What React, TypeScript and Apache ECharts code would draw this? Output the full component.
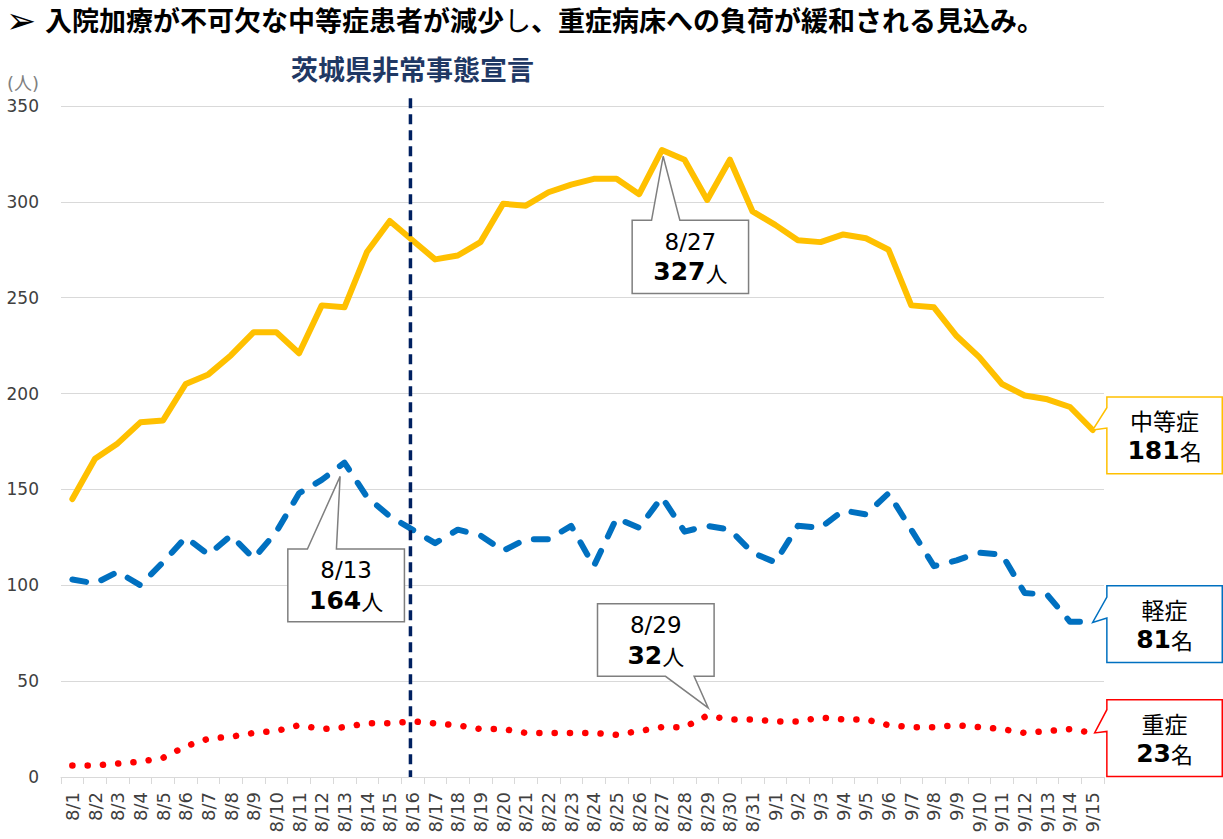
import React, { useEffect, useRef } from 'react';
import * as echarts from 'echarts';

const dates = [
  '8/1', '8/2', '8/3', '8/4', '8/5', '8/6', '8/7', '8/8', '8/9', '8/10',
  '8/11', '8/12', '8/13', '8/14', '8/15', '8/16', '8/17', '8/18', '8/19', '8/20',
  '8/21', '8/22', '8/23', '8/24', '8/25', '8/26', '8/27', '8/28', '8/29', '8/30',
  '8/31', '9/1', '9/2', '9/3', '9/4', '9/5', '9/6', '9/7', '9/8', '9/9',
  '9/10', '9/11', '9/12', '9/13', '9/14', '9/15',
];

// 中等症
const moderate = [
  145, 166, 174, 185, 186, 205, 210, 220, 232, 232,
  221, 246, 245, 274, 290, 280, 270, 272, 279, 299,
  298, 305, 309, 312, 312, 304, 327, 322, 301, 322,
  295, 288, 280, 279, 283, 281, 275, 246, 245, 230,
  219, 205, 199, 197, 193, 181,
];

// 軽症
const mild = [
  103, 101, 107, 100, 112, 125, 116, 126, 114, 128,
  148, 155, 164, 146, 136, 129, 122, 129, 126, 118,
  124, 124, 131, 110, 135, 130, 146, 128, 131, 129,
  117, 112, 131, 130, 139, 137, 148, 129, 110, 113,
  117, 116, 96, 95, 81, 81,
];

// 重症
const severe = [
  6, 6, 7, 8, 10, 16, 20, 21, 23, 24,
  27, 25, 26, 28, 28, 29, 28, 27, 25, 25,
  23, 23, 23, 23, 22, 24, 26, 26, 32, 30,
  30, 29, 29, 31, 30, 30, 27, 26, 26, 27,
  26, 25, 23, 24, 25, 23,
];

const yMin = 0;
const yMax = 350;
const yInterval = 50;

const declarationDate = '8/16';
const declarationText = '茨城県非常事態宣言';
const headline = '入院加療が不可欠な中等症患者が減少し、重症病床への負荷が緩和される見込み。';
const unitLabel = '(人)';

const LATIN = 'DejaVu Sans, Noto Sans CJK JP, sans-serif';
const CJK = 'Noto Sans CJK JP, sans-serif';

export default function App() {
  const ref = useRef<HTMLDivElement>(null);

  useEffect(() => {
    const el = ref.current;
    if (!el) return;
    const chart = echarts.init(el, undefined, { renderer: 'svg' });

    chart.setOption({
      animation: false,
      backgroundColor: '#ffffff',
      grid: { left: 61, right: 119, top: 106, bottom: 62 },
      xAxis: {
        type: 'category',
        data: dates,
        boundaryGap: true,
        axisLine: { lineStyle: { color: '#D9D9D9', width: 1 } },
        axisTick: { show: true, length: 7, lineStyle: { color: '#D9D9D9' } },
        axisLabel: {
          interval: 0,
          rotate: 90,
          margin: 15,
          fontSize: 18,
          color: '#404040',
          fontFamily: LATIN,
        },
        splitLine: { show: false },
      },
      yAxis: {
        type: 'value',
        min: yMin,
        max: yMax,
        interval: yInterval,
        axisLine: { show: false },
        axisTick: { show: false },
        axisLabel: { fontSize: 17, color: '#404040', margin: 22, fontFamily: LATIN },
        splitLine: { lineStyle: { color: '#D9D9D9', width: 1 } },
      },
      series: [
        {
          name: '中等症',
          type: 'line',
          data: moderate,
          symbol: 'none',
          lineStyle: { color: '#FFC000', width: 6, cap: 'round', join: 'round' },
          z: 3,
        },
        {
          name: '軽症',
          type: 'line',
          data: mild,
          symbol: 'none',
          lineStyle: { color: '#0070C0', width: 6, type: [14, 16], cap: 'round', join: 'round' },
          z: 3,
        },
        {
          name: '重症',
          type: 'line',
          data: severe,
          symbol: 'none',
          lineStyle: { color: '#FF0000', width: 6.5, type: [0.1, 15.2], cap: 'round', join: 'round' },
          z: 3,
        },
      ],
    });

    const px = (i: number, v: number) => chart.convertToPixel({ gridIndex: 0 }, [i, v]) as number[];
    const last = dates.length - 1;
    const decIdx = dates.indexOf(declarationDate);
    const decTop = px(decIdx, 354);
    const decBottom = px(decIdx, 0);

    const graphics: any[] = [];

    // headline
    graphics.push({
      type: 'text',
      x: 6,
      y: 20,
      z: 100,
      style: { text: '➢', fontSize: 36, lineHeight: 30, fontFamily: 'DejaVu Sans', fill: '#000', verticalAlign: 'middle' },
    });
    const shi = headline.indexOf('し');
    graphics.push({
      type: 'text',
      x: 45,
      y: 19,
      z: 100,
      style: {
        text: `{b|${headline.slice(0, shi)}}{n|し}{b|${headline.slice(shi + 1)}}`,
        verticalAlign: 'middle',
        rich: {
          b: { fontSize: 27, fontWeight: 'bold', fontFamily: CJK, fill: '#000' },
          n: { fontSize: 27, fontWeight: 'normal', fontFamily: CJK, fill: '#000' },
        },
      },
    });

    // unit label
    graphics.push({
      type: 'text',
      x: 7,
      y: 83,
      z: 100,
      style: { text: unitLabel, fontSize: 18, fontFamily: LATIN, fill: '#808080', verticalAlign: 'middle' },
    });

    // declaration title
    graphics.push({
      type: 'text',
      x: decTop[0],
      y: 68,
      z: 100,
      style: {
        text: declarationText,
        fontSize: 27,
        fontWeight: 'bold',
        fontFamily: CJK,
        fill: '#1F3864',
        align: 'center',
        verticalAlign: 'middle',
      },
    });

    // declaration line
    graphics.push({
      type: 'line',
      z: 90,
      shape: { x1: decTop[0] - 2, y1: decTop[1], x2: decBottom[0] - 2, y2: decBottom[1] },
      style: { stroke: '#002060', lineWidth: 3.5, lineDash: [10, 6] },
    });

    const richLines = (first: string, num: string, unit: string, firstCjk: boolean) => ({
      text: `{a|${first}}\n{b|${num}}{c|${unit}}`,
      align: 'center',
      verticalAlign: 'middle',
      rich: {
        a: { fontSize: 23, fontFamily: firstCjk ? CJK : LATIN, fill: '#000', lineHeight: 30, align: 'center' },
        b: { fontSize: 25, fontWeight: 'bold', fontFamily: LATIN, fill: '#000', lineHeight: 30 },
        c: { fontSize: 22, fontFamily: CJK, fill: '#000', lineHeight: 30 },
      },
    });

    // callouts with a pointer toward the peak point
    const peakCallouts = [
      { series: mild, idx: dates.indexOf('8/13'), box: [-56.6, 86.4, 60, 159.1], base: [-37, -8], tip: [-4.3, 13.8], side: 'top' },
      { series: moderate, idx: dates.indexOf('8/27'), box: [-29.7, 70.2, 86.7, 143.5], base: [-10.3, 18], tip: [1.3, 6.2], side: 'top' },
      { series: severe, idx: dates.indexOf('8/29'), box: [-109.7, -112, 6.9, -39.3], base: [-41.7, -13.1], tip: [1, -7.7], side: 'bottom' },
    ];
    peakCallouts.forEach((c) => {
      const v = c.series[c.idx];
      const p = px(c.idx, v);
      const x0 = p[0] + c.box[0];
      const y0 = p[1] + c.box[1];
      const x1 = p[0] + c.box[2];
      const y1 = p[1] + c.box[3];
      const tx = p[0] + c.tip[0];
      const ty = p[1] + c.tip[1];
      const bl = p[0] + c.base[0];
      const br = p[0] + c.base[1];
      const points =
        c.side === 'top'
          ? [[x0, y0], [bl, y0], [tx, ty], [br, y0], [x1, y0], [x1, y1], [x0, y1]]
          : [[x0, y0], [x1, y0], [x1, y1], [br, y1], [tx, ty], [bl, y1], [x0, y1]];
      graphics.push({
        type: 'polygon',
        z: 110,
        shape: { points },
        style: { fill: '#ffffff', stroke: '#7F7F7F', lineWidth: 1.5 },
      });
      graphics.push({
        type: 'text',
        z: 111,
        x: (x0 + x1) / 2,
        y: (y0 + y1) / 2,
        style: richLines(dates[c.idx], String(v), '人', false),
      });
    });

    // end-of-line callouts
    const endCallouts = [
      { series: moderate, name: '中等症', color: '#FFC000', box: [14.2, -33, 129.6, 43.7], base: [-22.3, -2], tip: [0, 0] },
      { series: mild, name: '軽症', color: '#0070C0', box: [14.2, -36, 129.6, 40.7], base: [-24.7, -3.7], tip: [0, 0.7] },
      { series: severe, name: '重症', color: '#FF0000', box: [14.2, -33.2, 129.6, 43.5], base: [-23.2, -1.5], tip: [2, 0] },
    ];
    endCallouts.forEach((c) => {
      const v = c.series[last];
      const p = px(last, v);
      const x0 = p[0] + c.box[0];
      const y0 = p[1] + c.box[1];
      const x1 = p[0] + c.box[2];
      const y1 = p[1] + c.box[3];
      const tx = p[0] + c.tip[0];
      const ty = p[1] + c.tip[1];
      const bt = p[1] + c.base[0];
      const bb = p[1] + c.base[1];
      const points = [[x0, y0], [x1, y0], [x1, y1], [x0, y1], [x0, bb], [tx, ty], [x0, bt]];
      graphics.push({
        type: 'polygon',
        z: 110,
        shape: { points },
        style: { fill: '#ffffff', stroke: c.color, lineWidth: 1.5 },
      });
      graphics.push({
        type: 'text',
        z: 111,
        x: (x0 + x1) / 2,
        y: (y0 + y1) / 2,
        style: richLines(c.name, String(v), '名', true),
      });
    });

    chart.setOption({ graphic: graphics });

    return () => {
      chart.dispose();
    };
  }, []);

  return (
    <div
      ref={ref}
      style={{ position: 'fixed', left: 0, top: 0, width: 1223, height: 839, background: '#fff' }}
    />
  );
}
